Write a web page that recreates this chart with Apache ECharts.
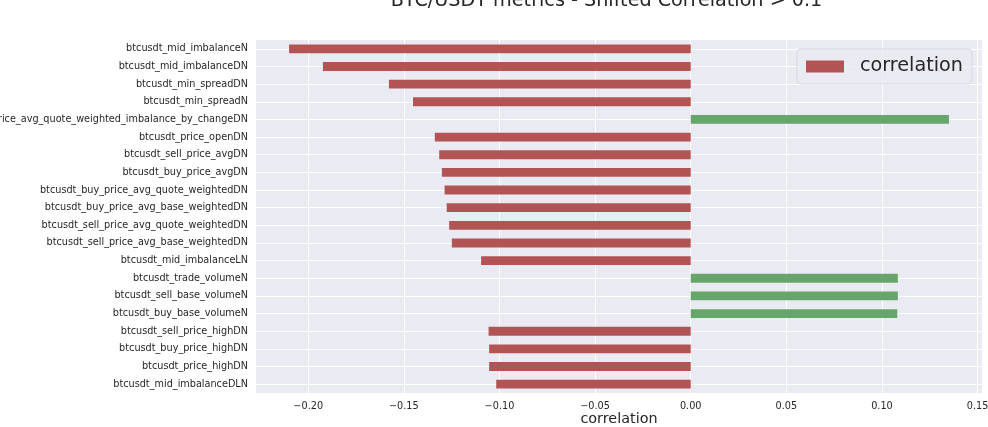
<!DOCTYPE html>
<html>
<head>
<meta charset="utf-8">
<script src="https://cdn.jsdelivr.net/npm/echarts@6/dist/echarts.min.js"></script>
<style>
html,body{margin:0;padding:0;background:#fff;}
#chart{width:988px;height:427px;}
</style>
</head>
<body>
<div id="chart"></div>
<script>
const categories = [
  'btcusdt_mid_imbalanceN',
  'btcusdt_mid_imbalanceDN',
  'btcusdt_min_spreadDN',
  'btcusdt_min_spreadN',
  'btcusdt_price_avg_quote_weighted_imbalance_by_changeDN',
  'btcusdt_price_openDN',
  'btcusdt_sell_price_avgDN',
  'btcusdt_buy_price_avgDN',
  'btcusdt_buy_price_avg_quote_weightedDN',
  'btcusdt_buy_price_avg_base_weightedDN',
  'btcusdt_sell_price_avg_quote_weightedDN',
  'btcusdt_sell_price_avg_base_weightedDN',
  'btcusdt_mid_imbalanceLN',
  'btcusdt_trade_volumeN',
  'btcusdt_sell_base_volumeN',
  'btcusdt_buy_base_volumeN',
  'btcusdt_sell_price_highDN',
  'btcusdt_buy_price_highDN',
  'btcusdt_price_highDN',
  'btcusdt_mid_imbalanceDLN'
];
const correlation = [
  -0.2100, -0.1923, -0.1578, -0.1452, 0.1350,
  -0.1338, -0.1315, -0.1301, -0.1287, -0.1276,
  -0.1263, -0.1249, -0.1096, 0.1083, 0.1083,
  0.1080, -0.1057, -0.1054, -0.1054, -0.1017
];
const xTicks = [-0.20, -0.15, -0.10, -0.05, 0.00, 0.05, 0.10, 0.15];
const xMin = -0.2273;
const xMax = 0.1523;
const titleText = 'BTC/USDT metrics - Shifted Correlation > 0.1';
const seriesName = 'correlation';
const xAxisName = 'correlation';

const RED = '#B35454';
const GREEN = '#67A66B';
const FONT = 'DejaVu Sans';
const TXT = '#262626';

const chart = echarts.init(document.getElementById('chart'), null, {renderer: 'canvas'});
chart.setOption({
  animation: false,
  backgroundColor: '#ffffff',
  textStyle: {fontFamily: FONT},
  graphic: [{
    type: 'text',
    x: 606.5,
    y: 1.5,
    style: {
      text: titleText,
      fontFamily: FONT,
      fontSize: 19.2,
      fill: TXT,
      textAlign: 'center',
      textVerticalAlign: 'middle'
    }
  }],
  legend: {
    data: [seriesName],
    left: 797,
    top: 49,
    orient: 'vertical',
    icon: 'rect',
    itemWidth: 38,
    itemHeight: 12,
    padding: [8, 9, 8, 9],
    backgroundColor: 'rgba(234,234,242,0.8)',
    borderColor: '#d9d9e0',
    borderWidth: 1,
    borderRadius: 4,
    selectedMode: false,
    textStyle: {fontFamily: FONT, fontSize: 19.2, color: TXT, padding: [0, 0, 0, 11]}
  },
  grid: {
    left: 256,
    right: 6,
    top: 40,
    bottom: 34,
    show: true,
    backgroundColor: '#EAEAF2',
    borderWidth: 0,
    containLabel: false,
    outerBoundsMode: 'none'
  },
  xAxis: {
    type: 'value',
    min: xMin,
    max: xMax,
    name: xAxisName,
    nameLocation: 'middle',
    nameGap: 19,
    nameMoveOverlap: false,
    nameTextStyle: {fontFamily: FONT, fontSize: 14.4, color: TXT},
    axisLine: {show: false},
    axisTick: {show: false, customValues: xTicks},
    axisLabel: {
      customValues: xTicks,
      margin: 8,
      fontFamily: FONT,
      fontSize: 9.7,
      color: TXT,
      formatter: v => v.toFixed(2).replace('-', '\u2212')
    },
    splitLine: {show: true, customValues: xTicks, lineStyle: {color: '#ffffff', width: 1}}
  },
  yAxis: {
    type: 'category',
    data: categories,
    inverse: true,
    axisLine: {show: false},
    axisTick: {show: false},
    axisLabel: {
      interval: 0,
      margin: 8,
      fontFamily: FONT,
      fontSize: 9.7,
      color: TXT
    },
    splitLine: {show: true, interval: 0, alignWithLabel: true, lineStyle: {color: '#ffffff', width: 1}}
  },
  series: [{
    name: seriesName,
    type: 'bar',
    barWidth: '50%',
    itemStyle: {color: RED},
    data: correlation.map(v => ({value: v, itemStyle: {color: v >= 0 ? GREEN : RED}}))
  }]
});
</script>
</body>
</html>
